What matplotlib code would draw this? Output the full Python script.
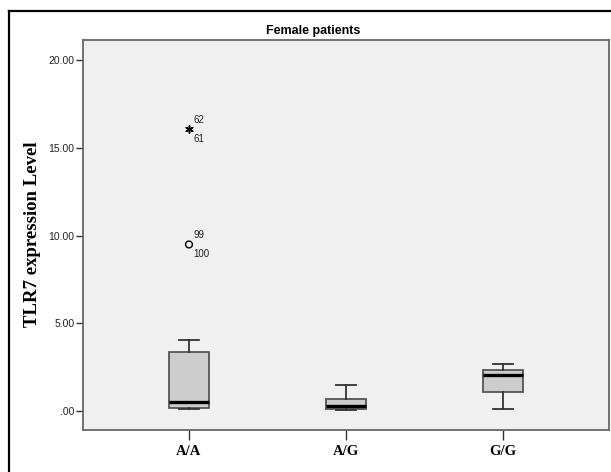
import matplotlib
matplotlib.use("Agg")
import matplotlib.pyplot as plt
from matplotlib.lines import Line2D

# genotype groups and box summaries
groups = ["A/A", "A/G", "G/G"]
whislo = [0.10, 0.08, 0.11]
q1 = [0.16, 0.11, 1.08]
med = [0.53, 0.28, 2.05]
q3 = [3.35, 0.66, 2.35]
whishi = [4.05, 1.46, 2.69]

# flagged cases (SPSS style: * extreme, o outlier)
extreme_x = [1]
extreme_y = [16.05]
extreme_ids = [("62", "61")]
outlier_x = [1]
outlier_y = [9.49]
outlier_ids = [("99", "100")]

yticks = [0, 5, 10, 15, 20]
ytick_labels = [".00", "5.00", "10.00", "15.00", "20.00"]

fig = plt.figure(figsize=(6.11, 4.72), dpi=100)
ax = fig.add_axes([83 / 611, 1 - 430 / 472, 526 / 611, 390 / 472])
ax.set_facecolor("#f0f0f0")

stats = []
for i in range(len(groups)):
    stats.append(dict(whislo=whislo[i], q1=q1[i], med=med[i], q3=q3[i],
                      whishi=whishi[i], fliers=[], label=groups[i]))

ax.bxp(stats, positions=[1, 2, 3], widths=0.255, capwidths=0.125,
       patch_artist=True, showfliers=False,
       boxprops=dict(facecolor="#cccccc", edgecolor="#555555", linewidth=1.3),
       whiskerprops=dict(color="#333333", linewidth=1.3),
       capprops=dict(color="#333333", linewidth=1.3),
       medianprops=dict(color="black", linewidth=2.4))

ax.scatter(extreme_x, extreme_y, marker=(6, 2, 0), s=28, color="black",
           linewidths=1.1, zorder=5)
ax.scatter(outlier_x, outlier_y, marker="o", s=24, facecolors="none",
           edgecolors="black", linewidths=1.0, zorder=5)
for xs, ys, ids in [(extreme_x, extreme_y, extreme_ids), (outlier_x, outlier_y, outlier_ids)]:
    for x, y, (top, bot) in zip(xs, ys, ids):
        ax.annotate(top, (x, y), xytext=(3, 7), textcoords="offset points",
                    fontsize=7, ha="left", va="center", family="Liberation Sans",
                    color="#222222")
        ax.annotate(bot, (x, y), xytext=(3, -7), textcoords="offset points",
                    fontsize=7, ha="left", va="center", family="Liberation Sans",
                    color="#222222")

ax.set_xlim(0.325, 3.675)
ax.set_ylim(-1.08, 21.14)
ax.set_yticks(yticks)
ax.set_yticklabels(ytick_labels, fontsize=7.5, family="Liberation Sans", color="#222222")
ax.set_xticks([1, 2, 3])
ax.set_xticklabels(groups, fontsize=10.5, fontweight="bold", family="Liberation Serif")
ax.tick_params(axis="y", length=5, width=1, color="#333333", pad=1)
ax.tick_params(axis="x", length=7, width=1, color="#333333", pad=4)
for s in ax.spines.values():
    s.set_color("#666666")
    s.set_linewidth(1.3)

ax.set_ylabel("TLR7 expression Level", fontsize=13.5, fontweight="bold",
              family="Liberation Serif", labelpad=0)
ax.yaxis.set_label_coords(-0.08, 0.503)

fig.text(313 / 611, 1 - 31 / 472, "Female patients", ha="center", va="center",
         fontsize=9, fontweight="bold", family="Liberation Sans")

# outer frame of the exported chart (cropped at right and bottom)
fig.add_artist(Line2D([9 / 611, 1.0], [1 - 11 / 472] * 2, transform=fig.transFigure,
                      color="black", linewidth=1.6))
fig.add_artist(Line2D([9 / 611] * 2, [0.0, 1 - 11 / 472], transform=fig.transFigure,
                      color="black", linewidth=1.6))

fig.savefig("out.png", dpi=100)
